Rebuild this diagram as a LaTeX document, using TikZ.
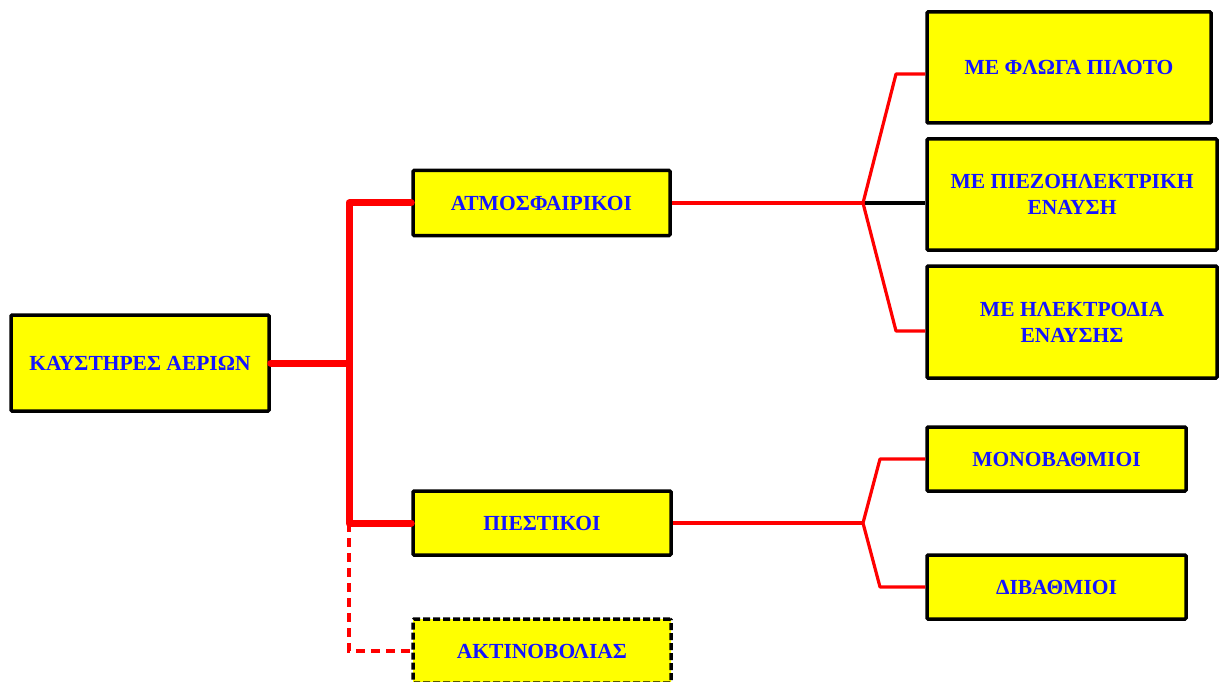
\documentclass[tikz,border=0pt]{standalone}
\usepackage{fontspec}
\setmainfont{Liberation Serif}
\definecolor{boxyellow}{RGB}{255,255,0}
\definecolor{txtblue}{RGB}{20,20,255}
\definecolor{linered}{RGB}{255,0,0}
\begin{document}
\begin{tikzpicture}[x=1pt,y=-1pt,
  box/.style={draw=black,line width=3.5pt,fill=boxyellow,rounded corners=1pt,
    text=txtblue,align=center,inner sep=0pt,
    font=\fontsize{21.5}{26}\selectfont\bfseries},
  bigline/.style={draw=linered,line width=7pt,line cap=round,line join=round},
  thinline/.style={draw=linered,line width=3.2pt,line join=round},
  blackline/.style={draw=black,line width=3.2pt},
  dashline/.style={draw=linered,line width=3.2pt,dash pattern=on 9pt off 6pt},
  dashbox/.style={box,dash pattern=on 7pt off 3pt}
]
\useasboundingbox (0,0) rectangle (1219,682);
\node[box,minimum width=258pt,minimum height=96pt] (kaust) at (140,363) {ΚΑΥΣΤΗΡΕΣ ΑΕΡΙΩΝ};
\node[box,minimum width=257pt,minimum height=65pt] (atmos) at (541.5,203) {ΑΤΜΟΣΦΑΙΡΙΚΟΙ};
\node[box,minimum width=258pt,minimum height=64pt] (piest) at (542,523) {ΠΙΕΣΤΙΚΟΙ};
\node[dashbox,minimum width=258pt,minimum height=64pt] (aktin) at (542,651) {ΑΚΤΙΝΟΒΟΛΙΑΣ};
\node[box,minimum width=284pt,minimum height=111pt] (floga) at (1069,67.5) {ΜΕ ΦΛΩΓΑ ΠΙΛΟΤΟ};
\node[box,minimum width=290pt,minimum height=111pt] (piezo) at (1072,194.5) {ΜΕ ΠΙΕΖΟΗΛΕΚΤΡΙΚΗ\\ΕΝΑΥΣΗ};
\node[box,minimum width=290pt,minimum height=112pt] (hlek) at (1072,322) {ΜΕ ΗΛΕΚΤΡΟΔΙΑ\\ΕΝΑΥΣΗΣ};
\node[box,minimum width=259pt,minimum height=64pt] (mono) at (1056.5,459) {ΜΟΝΟΒΑΘΜΙΟΙ};
\node[box,minimum width=259pt,minimum height=64pt] (diba) at (1056.5,587) {ΔΙΒΑΘΜΙΟΙ};
% left bracket
\coordinate (j) at (349,363);
\draw[dashline] (piest.west -| j) |- (aktin.west);
\draw[bigline] (kaust.east) -- (j);
\draw[bigline] (atmos.west) -- (atmos.west -| j) -- (piest.west -| j) -- (piest.west);
% upper fork
\coordinate (f1) at (863,203);
\coordinate (b1) at (896,74);
\coordinate (b2) at (896,331);
\draw[blackline] (f1) -- (f1 -| piezo.west);
\draw[thinline] (atmos.east) -- (f1);
\draw[thinline] (b1 -| floga.west) -- (b1) -- (f1) -- (b2) -- (b2 -| hlek.west);
% lower fork
\coordinate (f2) at (863,523);
\coordinate (b3) at (880,459);
\coordinate (b4) at (880,587);
\draw[thinline] (piest.east) -- (f2);
\draw[thinline] (b3 -| mono.west) -- (b3) -- (f2) -- (b4) -- (b4 -| diba.west);
\end{tikzpicture}
\end{document}
